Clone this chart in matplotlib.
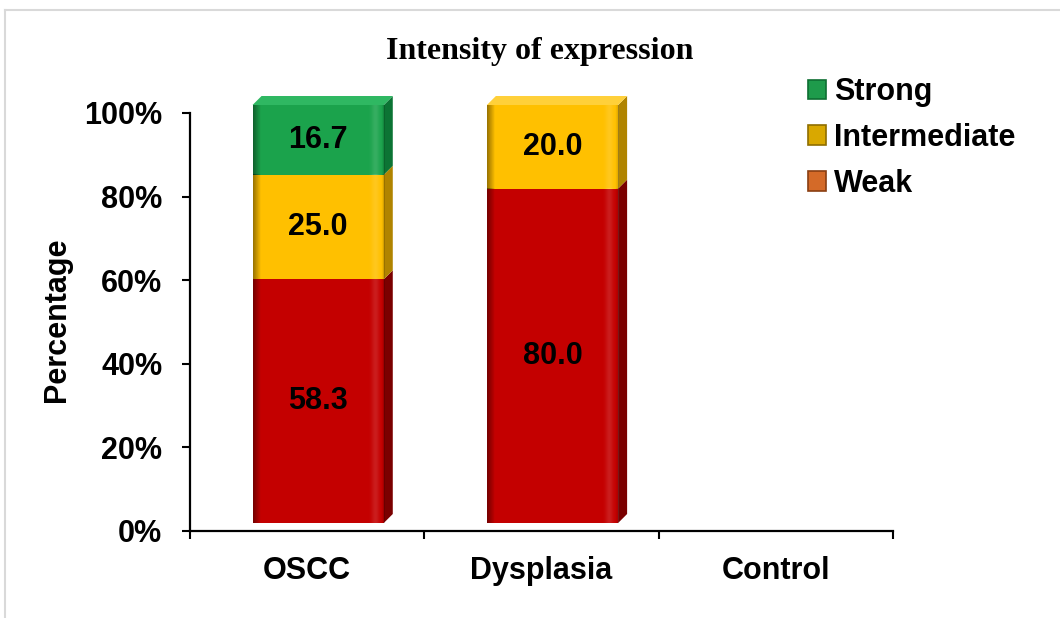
import numpy as np
import matplotlib
matplotlib.use("Agg")
import matplotlib.pyplot as plt
from matplotlib.patches import Polygon, Patch
from matplotlib.transforms import ScaledTranslation

# ---- data -------------------------------------------------------------
categories = ["OSCC", "Dysplasia", "Control"]
weak = [58.3, 80.0, 0.0]
intermediate = [25.0, 20.0, 0.0]
strong = [16.7, 0.0, 0.0]
series_names = ["Weak", "Intermediate", "Strong"]
legend_order = ["Strong", "Intermediate", "Weak"]
y_ticks = [0, 20, 40, 60, 80, 100]
y_tick_labels = ["0%", "20%", "40%", "60%", "80%", "100%"]

# ---- styling ----------------------------------------------------------
front_col = {"Weak": "#C40000", "Intermediate": "#FFC000", "Strong": "#1BA34C"}
side_col = {"Weak": "#7A0000", "Intermediate": "#B08400", "Strong": "#0C7434"}
top_col = {"Weak": "#DA2020", "Intermediate": "#FFD03A", "Strong": "#2FB862"}
legend_col = {"Strong": "#1E9B4B", "Intermediate": "#D9A800", "Weak": "#D46A28"}
legend_edge = {"Strong": "#0E6E32", "Intermediate": "#8F6E00", "Weak": "#8A3E12"}

plt.rcParams["font.family"] = ["Liberation Sans", "DejaVu Sans"]
plt.rcParams["font.weight"] = "bold"

DPI = 100
W, H = 1060, 618
fig = plt.figure(figsize=(W / DPI, H / DPI), dpi=DPI)
ax = fig.add_axes([190 / W, 87 / H, 703 / W, 418 / H])
ax.set_xlim(-0.5, 2.5)
ax.set_ylim(0, 100)

# data units per pixel
ux = 3.0 / ax.bbox.width
uy = 100.0 / ax.bbox.height

# front faces are pushed back-right to give the bars a 3-D look
front_trans = ax.transData + ScaledTranslation(11 / DPI, 8 / DPI, fig.dpi_scale_trans)
depth_x, depth_y = 9 * ux, 9 * uy

x = np.arange(len(categories))
bar_w = 0.56
data = {"Weak": weak, "Intermediate": intermediate, "Strong": strong}

# shading profile across the front face (dark left edge, soft gloss on right)
u = np.linspace(0, 1, 200)
shade = np.zeros((1, u.size, 4))
dark = np.clip(1 - u / 0.06, 0, 1) * 0.4 + np.clip((u - 0.975) / 0.025, 0, 1) * 0.15
light = 0.12 * np.exp(-((u - 0.93) / 0.03) ** 2)
rgb = np.where(dark[:, None] > light[:, None], 0.0, 1.0)
shade[0, :, :3] = rgb
shade[0, :, 3] = np.maximum(dark, light)

bottoms = np.zeros(len(categories))
tops = {}
for name in series_names:
    vals = np.array(data[name])
    ax.bar(x, vals, bar_w, bottom=bottoms, color=front_col[name],
           edgecolor="none", transform=front_trans, clip_on=False, zorder=2)
    for i, v in enumerate(vals):
        if v <= 0:
            continue
        b = bottoms[i]
        xl, xr = x[i] - bar_w / 2, x[i] + bar_w / 2
        side = Polygon([(xr, b), (xr + depth_x, b + depth_y),
                        (xr + depth_x, b + v + depth_y), (xr, b + v)],
                       closed=True, facecolor=side_col[name], edgecolor="none",
                       transform=front_trans, clip_on=False, zorder=2)
        ax.add_patch(side)
        ax.imshow(shade, extent=[xl, xr, b, b + v], aspect="auto",
                  interpolation="bilinear", transform=front_trans,
                  clip_on=False, zorder=2.2)
        ax.text(x[i], b + v / 2, f"{v:.1f}", transform=front_trans,
                ha="center", va="center", fontsize=22, fontweight="bold",
                color="black", zorder=4)
        tops[i] = (b + v, name)
    bottoms = bottoms + vals

# top caps of each stack
for i, (t, name) in tops.items():
    xl, xr = x[i] - bar_w / 2, x[i] + bar_w / 2
    cap = Polygon([(xl, t), (xl + depth_x, t + depth_y),
                   (xr + depth_x, t + depth_y), (xr, t)],
                  closed=True, facecolor=top_col[name], edgecolor="none",
                  transform=front_trans, clip_on=False, zorder=2.1)
    ax.add_patch(cap)

ax.set_xlim(-0.5, 2.5)
ax.set_ylim(0, 100)

# axes
for s in ["top", "right"]:
    ax.spines[s].set_visible(False)
for s in ["left", "bottom"]:
    ax.spines[s].set_linewidth(1.6)
    ax.spines[s].set_color("black")

ax.set_yticks(y_ticks, y_tick_labels)
ax.tick_params(axis="y", direction="out", length=6, width=1.5, pad=14,
               labelsize=22)
ax.set_xticks([-0.5, 0.5, 1.5, 2.5], ["", "", "", ""])
ax.set_xticks(x, categories, minor=True)
ax.tick_params(axis="x", which="major", direction="out", length=6, width=1.5)
ax.tick_params(axis="x", which="minor", length=0, pad=18, labelsize=22)
for lab in ax.get_xticklabels(minor=True) + ax.get_yticklabels():
    lab.set_fontweight("bold")

# titles
fig.text(540 / W, 1 - 52 / H, "Intensity of expression", ha="center",
         va="center", fontsize=23, fontweight="bold",
         family=["Liberation Serif", "DejaVu Serif"])
fig.text(57 / W, 1 - 320 / H, "Percentage", rotation=90, ha="center",
         va="center", fontsize=22, fontweight="bold")

# legend
handles = [Patch(facecolor=legend_col[n], edgecolor=legend_edge[n], linewidth=1.2)
           for n in legend_order]
fig.legend(handles, legend_order, loc="upper left",
           bbox_to_anchor=(808 / W, 1 - 77 / H), frameon=False,
           prop={"size": 22, "weight": "bold"}, handlelength=0.6,
           handleheight=0.6, handletextpad=0.25, labelspacing=0.52,
           borderpad=0, borderaxespad=0)

# light chart-area border
fig.add_artist(plt.Line2D([5 / W, 5 / W], [0, 1 - 10 / H], color="#D9D9D9",
                          linewidth=1.5, transform=fig.transFigure))
fig.add_artist(plt.Line2D([5 / W, 1], [1 - 10 / H, 1 - 10 / H], color="#D9D9D9",
                          linewidth=1.5, transform=fig.transFigure))

fig.savefig("out.png", dpi=DPI)
